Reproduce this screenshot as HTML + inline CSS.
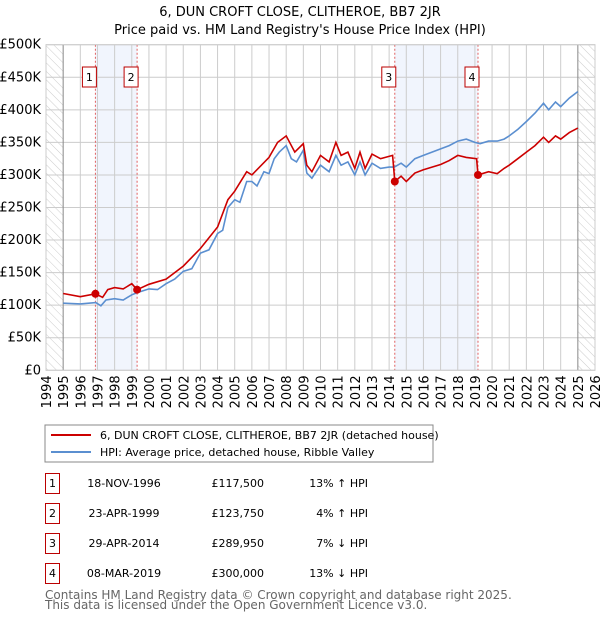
<!DOCTYPE html>
<html><head><meta charset="utf-8"><style>
body{margin:0;width:600px;height:620px;background:#fff;font-family:"DejaVu Sans","Liberation Sans",sans-serif;overflow:hidden}
svg{position:absolute;left:0;top:0}
</style></head><body>
<svg id="c" width="600" height="620" font-family="DejaVu Sans, Liberation Sans, sans-serif">
<defs><pattern id="h" width="6" height="6" patternUnits="userSpaceOnUse" patternTransform="rotate(-45)"><line x1="0" y1="0" x2="0" y2="6" stroke="#ccc" stroke-width="1"/></pattern></defs>
<text x="300" y="16" text-anchor="middle" font-size="13">6, DUN CROFT CLOSE, CLITHEROE, BB7 2JR</text>
<text x="300" y="34" text-anchor="middle" font-size="13">Price paid vs. HM Land Registry's House Price Index (HPI)</text>
<g id="plot"></g>
<rect x="45" y="425" width="388" height="37" fill="#fff" stroke="#888"/>
<line x1="51" y1="435" x2="91" y2="435" stroke="#cc0000" stroke-width="2"/>
<text x="100" y="439" font-size="11">6, DUN CROFT CLOSE, CLITHEROE, BB7 2JR (detached house)</text>
<line x1="51" y1="452" x2="91" y2="452" stroke="#5b8fd0" stroke-width="2"/>
<text x="100" y="456" font-size="11">HPI: Average price, detached house, Ribble Valley</text>
<g id="tbl" font-size="11"></g>
<text x="45" y="599" font-size="12" fill="#666">Contains HM Land Registry data © Crown copyright and database right 2025.</text>
<text x="45" y="609" font-size="12" fill="#666">This data is licensed under the Open Government Licence v3.0.</text>
</svg>
<script>
const hpiX=[1995,1996,1996.9,1997.2,1997.5,1998,1998.5,1999,1999.3,2000,2000.5,2001,2001.5,2002,2002.5,2003,2003.5,2004,2004.3,2004.6,2005,2005.3,2005.7,2006,2006.3,2006.7,2007,2007.3,2007.6,2008,2008.3,2008.6,2009,2009.2,2009.5,2010,2010.5,2010.9,2011.2,2011.6,2012,2012.3,2012.6,2013,2013.5,2014,2014.3,2014.7,2015,2015.5,2016,2016.5,2017,2017.5,2018,2018.5,2019,2019.3,2019.8,2020.3,2020.7,2021,2021.5,2022,2022.5,2023,2023.3,2023.7,2024,2024.5,2025];
const hpiV=[103,102,104,99,108,110,108,116,119,125,124,133,140,152,156,180,185,210,215,250,262,258,290,290,283,305,302,325,335,345,325,320,338,303,295,315,305,330,315,320,300,320,300,318,310,312,312,318,312,325,330,335,340,345,352,355,350,348,352,352,355,360,370,382,395,410,400,412,405,418,428];
const redX=[1995,1996,1996.88,1997.3,1997.6,1998,1998.5,1999,1999.31,2000,2001,2002,2003,2004,2004.6,2005,2005.7,2006,2007,2007.5,2008,2008.5,2009,2009.2,2009.5,2010,2010.5,2010.9,2011.2,2011.6,2012,2012.3,2012.6,2013,2013.5,2014.2,2014.33,2014.7,2015,2015.5,2016,2016.5,2017,2017.5,2018,2018.5,2019.1,2019.18,2019.8,2020.3,2020.7,2021,2021.5,2022,2022.5,2023,2023.3,2023.7,2024,2024.5,2025];
const redV=[118,113,117.5,112,124,127,125,133,123.75,132,140,160,187,220,262,275,305,300,327,350,360,335,348,315,305,330,320,350,330,335,310,335,310,332,325,330,290,298,290,303,308,312,316,322,330,327,325,300,305,302,310,315,325,335,345,358,350,360,355,365,372];
const saleX=[1996.88,1999.31,2014.33,2019.18];
const saleV=[117.5,123.75,289.95,300];
const saleLabels=["1","2","3","4"];
const saleDates=["18-NOV-1996","23-APR-1999","29-APR-2014","08-MAR-2019"];
const salePrices=["£117,500","£123,750","£289,950","£300,000"];
const salePct=["13% ↑ HPI","4% ↑ HPI","7% ↓ HPI","13% ↓ HPI"];
const yTicks=[0,50,100,150,200,250,300,350,400,450,500];
const yTickLabels=["£0","£50K","£100K","£150K","£200K","£250K","£300K","£350K","£400K","£450K","£500K"];
const years=[1994,1995,1996,1997,1998,1999,2000,2001,2002,2003,2004,2005,2006,2007,2008,2009,2010,2011,2012,2013,2014,2015,2016,2017,2018,2019,2020,2021,2022,2023,2024,2025,2026];
const X0=46,X1=595,Y0=370.3,Y1=44.7;
const sx=v=>X0+(v-1994)/(2026-1994)*(X1-X0);
const sy=v=>Y0-(v/500)*(Y0-Y1);
const NS="http://www.w3.org/2000/svg";
const g=document.getElementById('plot');
function mk(t,a,p){const e=document.createElementNS(NS,t);for(const k in a)e.setAttribute(k,a[k]);(p||g).appendChild(e);return e;}
let e;
e=mk('rect',{x:X0,y:Y1,width:X1-X0,height:Y0-Y1,fill:'#fff'});


for(let i=0;i<2;i++){e=mk('rect',{x:sx(saleX[i*2]),y:Y1,width:sx(saleX[i*2+1])-sx(saleX[i*2]),height:Y0-Y1,fill:'#eef3fc',opacity:0.8});

}
e=mk('rect',{x:X0,y:Y1,width:sx(1995)-X0,height:Y0-Y1,fill:'url(#h)'});


e=mk('rect',{x:sx(2025),y:Y1,width:X1-sx(2025),height:Y0-Y1,fill:'url(#h)'});


yTicks.forEach((t,i)=>{e=mk('line',{x1:X0,x2:X1,y1:sy(t),y2:sy(t),stroke:'#ccc'});


e=mk('text',{x:X0-5,y:sy(t)+4,'text-anchor':'end','font-size':'13'});e.textContent=yTickLabels[i];

});
years.forEach(y=>{e=mk('line',{x1:sx(y),x2:sx(y),y1:Y1,y2:Y0,stroke:(y==1995||y==2025)?'#888':'#ccc'});


e=mk('text',{x:0,y:0,'font-size':'13','text-anchor':'end',transform:`translate(${sx(y)+5},${Y0+5}) rotate(-90)`});e.textContent=y;

});
saleX.forEach((s,i)=>{e=mk('line',{x1:sx(s),x2:sx(s),y1:Y1,y2:Y0,stroke:'#e06060','stroke-dasharray':'2,2'});


e=mk('rect',{x:sx(s)-13,y:67,width:14,height:20,fill:'#fff',stroke:'#bb0000'});


e=mk('text',{x:sx(s)-6,y:81,'text-anchor':'middle','font-size':'11'});e.textContent=saleLabels[i];

});
const pts=(xs,vs)=>xs.map((x,i)=>sx(x).toFixed(1)+','+sy(vs[i]).toFixed(1)).join(' ');
e=mk('polyline',{points:pts(hpiX,hpiV),fill:'none',stroke:'#5b8fd0','stroke-width':1.6});


e=mk('polyline',{points:pts(redX,redV),fill:'none',stroke:'#cc0000','stroke-width':1.6});


saleX.forEach((s,i)=>{e=mk('circle',{cx:sx(s),cy:sy(saleV[i]),r:4,fill:'#cc0000'});

});
e=mk('rect',{x:X0,y:Y1,width:X1-X0,height:Y0-Y1,fill:'none',stroke:'#ccc'});


const tb=document.getElementById('tbl');
saleLabels.forEach((l,i)=>{const y=473+i*30;
e=mk('rect',{x:45.5,y:y+0.5,width:14,height:20,fill:'#fff',stroke:'#bb0000'},tb);


e=mk('text',{x:52.5,y:y+14,'text-anchor':'middle'},tb);e.textContent=l;


e=mk('text',{x:124,y:y+14,'text-anchor':'middle'},tb);e.textContent=saleDates[i];


e=mk('text',{x:264,y:y+14,'text-anchor':'end'},tb);e.textContent=salePrices[i];


e=mk('text',{x:368,y:y+14,'text-anchor':'end'},tb);e.textContent=salePct[i];

});
</script>
</body></html>
